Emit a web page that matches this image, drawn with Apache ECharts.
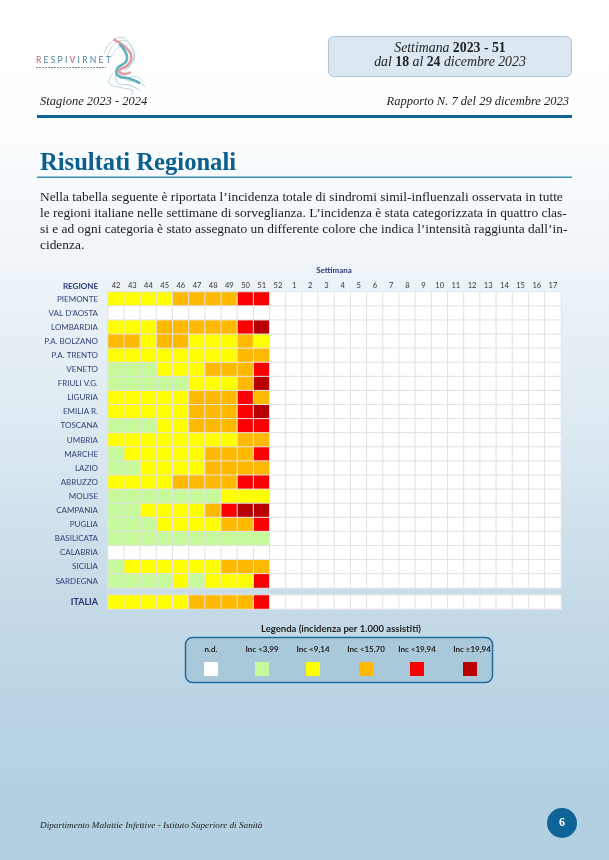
<!DOCTYPE html>
<html><head><meta charset="utf-8">
<style>html,body{margin:0;padding:0;background:#fff}#c{width:609px;height:860px}</style>
<script src="https://cdn.jsdelivr.net/npm/echarts@6/dist/echarts.min.js"></script>
</head><body><div id="c"></div>
<script>
const weeks = ['42','43','44','45','46','47','48','49','50','51','52','1','2','3','4','5','6','7','8','9','10','11','12','13','14','15','16','17'];
const regions = ['PIEMONTE',"VAL D'AOSTA",'LOMBARDIA','P.A. BOLZANO','P.A. TRENTO','VENETO','FRIULI V.G.','LIGURIA','EMILIA R.','TOSCANA','UMBRIA','MARCHE','LAZIO','ABRUZZO','MOLISE','CAMPANIA','PUGLIA','BASILICATA','CALABRIA','SICILIA','SARDEGNA'];
// class per week 42..51: 0 n.d., 1 <3,99, 2 <9,14, 3 <15,70, 4 <19,94, 5 >=19,94
const piemonte   = [2,2,2,2,3,3,3,3,4,4];
const valdaosta  = [0,0,0,0,0,0,0,0,0,0];
const lombardia  = [2,2,2,3,3,3,3,3,4,5];
const bolzano    = [3,3,2,3,3,2,2,2,3,2];
const trento     = [2,2,2,2,2,2,2,2,3,3];
const veneto     = [1,1,1,2,2,2,3,3,3,4];
const friuli     = [1,1,1,1,1,2,2,2,3,5];
const liguria    = [2,2,2,2,2,3,3,3,4,3];
const emilia     = [2,2,2,2,2,3,3,3,4,5];
const toscana    = [1,1,1,2,2,3,3,3,4,4];
const umbria     = [2,2,2,2,2,2,2,2,3,3];
const marche     = [1,2,2,2,2,2,3,3,3,4];
const lazio      = [1,1,2,2,2,2,3,3,3,3];
const abruzzo    = [2,2,2,2,3,3,3,3,4,4];
const molise     = [1,1,1,1,1,1,1,2,2,2];
const campania   = [1,1,2,2,2,2,3,4,5,5];
const puglia     = [1,1,1,2,2,2,2,3,3,4];
const basilicata = [1,1,1,1,1,1,1,1,1,1];
const calabria   = [0,0,0,0,0,0,0,0,0,0];
const sicilia    = [1,2,2,2,2,2,2,3,3,3];
const sardegna   = [1,1,1,1,2,1,2,2,2,4];
const italia     = [2,2,2,2,2,3,3,3,3,4];
const rows = [piemonte,valdaosta,lombardia,bolzano,trento,veneto,friuli,liguria,emilia,toscana,umbria,marche,lazio,abruzzo,molise,campania,puglia,basilicata,calabria,sicilia,sardegna];
const classColors = ['#ffffff','#c6f99a','#ffff00','#ffb900','#fa0000','#b90000'];
const legendLabels = ['n.d.','Inc <3,99','Inc <9,14','Inc <15,70','Inc <19,94','Inc ≥19,94'];

const SERIF = '"Liberation Serif"';
const SANS = 'Lato';
const cell = (r, x, y) => [x, y, r[x] === undefined ? 0 : r[x]];
const mainData = [];
rows.forEach((r, y) => weeks.forEach((w, x) => mainData.push(cell(r, x, y))));
const itData = weeks.map((w, x) => cell(italia, x, 0));

function T(x, y, text, font, fill, align, extra) {
  return Object.assign({type:'text', x, y, z:10, style:Object.assign({text, font, fill, align:align||'left', verticalAlign:'middle'}, extra||{})});
}
const lx = cx => 30 + cx/3, ly = cy => 30 + cy/3;
function ribbon(pts, stroke, w) {
  return {type:'polyline', z:5, silent:true, shape:{points:pts.map(p=>[lx(p[0]),ly(p[1])]), smooth:0.5},
          style:{stroke, lineWidth:w, fill:null, opacity:1}};
}
const graphics = [
  // logo
  ribbon([[222,70],[240,40],[272,22],[298,40],[314,78],[302,105],[285,122]],'#9cc3cf',0.7),
  ribbon([[232,78],[252,44],[285,32],[306,58],[308,95],[285,115]],'#a9ccd6',0.7),
  ribbon([[242,85],[262,55],[285,50],[298,70]],'#b5d3dc',0.7),
  ribbon([[248,130],[238,160],[270,172],[308,182],[303,196]],'#9cc3cf',0.7),
  ribbon([[258,128],[264,160],[298,165],[328,180]],'#8fbbc8',0.7),
  ribbon([[262,125],[290,150],[325,155],[348,172]],'#8fbbc8',0.7),
  ribbon([[265,135],[290,142],[320,140],[340,155]],'#a9ccd6',0.7),
  ribbon([[250,28],[290,55],[304,85],[290,108],[268,120],[280,132],[302,126]],'#e29aa6',2.6),
  ribbon([[268,42],[288,70],[288,95],[262,115],[265,138],[300,146],[330,160]],'#5fb0bc',2.6),
  {type:'text', x:36, y:60, z:10, style:{text:'{c|R }{a|E S P I }{b|V}{a| I R N E T}', verticalAlign:'middle',
     rich:{a:{font:'8.6px '+SANS, fill:'#4a7f9c'}, b:{font:'8.6px '+SANS, fill:'#c05a6a'}, c:{font:'8.6px '+SANS, fill:'#b56a7c'}}}},
  {type:'line', z:4, shape:{x1:36,y1:67.5,x2:106,y2:67.5}, style:{stroke:'#7f8c96', lineWidth:1, lineDash:[2,1]}},
  // week box
  {type:'rect', z:3, shape:{x:328.5,y:36.5,width:243,height:40,r:5}, style:{fill:'#dce8f1', stroke:'#a9c6da', lineWidth:1}},
  {type:'text', x:450, y:48.5, z:10, style:{align:'center', verticalAlign:'middle', text:'{i|Settimana }{b|2023 - 51}', rich:{i:{font:'italic 13.8px '+SERIF, fill:'#222'}, b:{font:'bold 13.8px '+SERIF, fill:'#222'}}}},
  {type:'text', x:450, y:62.5, z:10, style:{align:'center', verticalAlign:'middle', text:'{i|dal }{b|18}{i| al }{b|24}{i| dicembre 2023}', rich:{i:{font:'italic 13.8px '+SERIF, fill:'#222'}, b:{font:'bold 13.8px '+SERIF, fill:'#222'}}}},
  T(40, 102, 'Stagione 2023 - 2024', 'italic 12.5px '+SERIF, '#222'),
  T(569, 102, 'Rapporto N. 7 del 29 dicembre 2023', 'italic 12.5px '+SERIF, '#222', 'right'),
  {type:'rect', z:3, shape:{x:37,y:115,width:535,height:3}, style:{fill:'#0f6497'}},
  T(40, 163.5, 'Risultati Regionali', 'bold 24.6px '+SERIF, '#0b5f8f'),
  {type:'rect', z:3, shape:{x:37,y:176.5,width:535,height:1.5}, style:{fill:'#3e90b4'}},
  T(40, 197, 'Nella tabella seguente è riportata l’incidenza totale di sindromi simil-influenzali osservata in tutte', '13.4px '+SERIF, '#1c1c1c'),
  T(40, 213, 'le regioni italiane nelle settimane di sorveglianza. L’incidenza è stata categorizzata in quattro clas-', '13.4px '+SERIF, '#1c1c1c'),
  T(40, 229, 'si e ad ogni categoria è stato assegnato un differente colore che indica l’intensità raggiunta dall’in-', '13.4px '+SERIF, '#1c1c1c'),
  T(40, 245, 'cidenza.', '13.4px '+SERIF, '#1c1c1c'),
  T(334, 270, 'Settimana', 'bold 8px '+SANS, '#2a3a78', 'center'),
  T(98, 286, 'REGIONE', 'bold 8px '+SANS, '#2a3a78', 'right'),
  {type:'rect', z:0, shape:{x:108,y:588,width:453,height:7}, style:{fill:'#c9dde9'}},
  // legend
  T(341, 629, 'Legenda (incidenza per 1.000 assistiti)', 'bold 9.5px '+SANS, '#222', 'center'),
  {type:'rect', z:3, shape:{x:185.5,y:637.5,width:307,height:45,r:7}, style:{fill:'#a9c8da', stroke:'#1f6d9e', lineWidth:1.5}},
];
const legendX = [211, 262, 313, 366, 417, 470];
const legendTextX = [211, 262, 313, 366, 417, 472];
legendLabels.forEach((t, i) => {
  graphics.push(T(legendTextX[i], 649, t, 'bold 8px '+SANS, '#222', 'center'));
  graphics.push({type:'rect', z:10, shape:{x:legendX[i]-7, y:662, width:14, height:14}, style:{fill:classColors[i]}});
});

const cellStyle = {borderColor:'#e2e2e2', borderWidth:1};
const chart = echarts.init(document.getElementById('c'), null, {renderer:'canvas', width:609, height:860});
chart.setOption({
  animation:false,
  backgroundColor:{type:'linear',x:0,y:0,x2:0,y2:1,colorStops:[
    {offset:0,color:'#ffffff'},{offset:0.14,color:'#fdfeff'},{offset:0.3,color:'#eff5f9'},
    {offset:0.5,color:'#dde9f1'},{offset:0.72,color:'#c3d9e7'},{offset:0.92,color:'#b3d0e3'},{offset:1,color:'#b3d0e3'}]},
  grid:[
    {left:108, top:292, width:453, height:296},
    {left:108, top:595, width:453, height:14}
  ],
  xAxis:[
    {type:'category', gridIndex:0, position:'top', data:weeks, axisLine:{show:false}, axisTick:{show:false},
     axisLabel:{interval:0, margin:2, verticalAlign:'bottom', fontFamily:SANS, fontSize:7.5, color:'#333'}, splitLine:{show:false}},
    {type:'category', gridIndex:1, data:weeks, axisLine:{show:false}, axisTick:{show:false}, axisLabel:{show:false}, splitLine:{show:false}}
  ],
  yAxis:[
    {type:'category', gridIndex:0, inverse:true, data:regions, axisLine:{show:false}, axisTick:{show:false},
     axisLabel:{interval:0, margin:10, fontFamily:SANS, fontSize:8, color:'#2f3f78'}, splitLine:{show:false}},
    {type:'category', gridIndex:1, data:['ITALIA'], axisLine:{show:false}, axisTick:{show:false},
     axisLabel:{margin:10, fontFamily:SANS, fontSize:9, fontWeight:'bold', color:'#24346e'}, splitLine:{show:false}}
  ],
  visualMap:{show:false, type:'piecewise', dimension:2, seriesIndex:[0,1],
    pieces:classColors.map((c,i)=>({value:i, color:c}))},
  series:[
    {type:'heatmap', xAxisIndex:0, yAxisIndex:0, data:mainData, itemStyle:cellStyle, emphasis:{disabled:true}},
    {type:'heatmap', xAxisIndex:1, yAxisIndex:1, data:itData, itemStyle:cellStyle, emphasis:{disabled:true}}
  ],
  graphic:graphics.concat([
    {type:'circle', z:5, shape:{cx:562,cy:823,r:15}, style:{fill:'#0f6497'}},
    T(562, 822.5, '6', 'bold 12px '+SERIF, '#ffffff', 'center'),
    T(40, 826, 'Dipartimento Malattie Infettive - Istituto Superiore di Sanità', 'italic 9.2px '+SERIF, '#222')
  ])
});
</script></body></html>
